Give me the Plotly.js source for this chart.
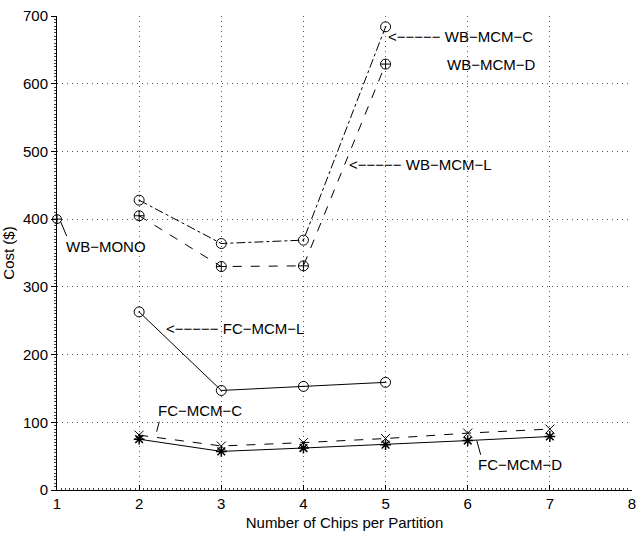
<!DOCTYPE html>
<html><head><meta charset="utf-8">
<script src="https://cdn.plot.ly/plotly-3.0.1.min.js"></script>
<style>body{margin:0;background:#fff}#c{width:637px;height:535px}</style>
</head><body><div id="c"></div>
<script>
const monoX = [1];
const monoY = [400];
const mcmX = [2, 3, 4, 5];
const wbMcmC = [428, 364, 369, 684];
const wbMcmD = [405, 330, 331, 629];
const fcMcmL = [263, 147, 153, 159];
const fcX = [2, 3, 4, 5, 6, 7];
const fcMcmC = [81, 65, 70, 76, 84, 90];
const fcMcmD = [75, 57, 62, 67, 73, 79];
const labels = {
  wbc: "<\u2212\u2212\u2212\u2212\u2212 WB\u2212MCM\u2212C",
  wbd: "WB\u2212MCM\u2212D",
  wbl: "<\u2212\u2212\u2212\u2212\u2212 WB\u2212MCM\u2212L",
  mono: "WB\u2212MONO",
  fcl: "<\u2212\u2212\u2212\u2212\u2212 FC\u2212MCM\u2212L",
  fcc: "FC\u2212MCM\u2212C",
  fcd: "FC\u2212MCM\u2212D"
};

const FONT = "Liberation Sans, Arial, sans-serif";
const FS = 15;
const line = (dash) => ({color: "#000", width: 1, dash: dash});
const traces = [
  {x: monoX, y: monoY, mode: "markers", marker: {symbol: "circle-cross-open", size: 9, color: "#000", line: {width: 1}}, cliponaxis: false},
  {x: mcmX, y: wbMcmC, mode: "lines+markers", line: line("dashdot"), marker: {symbol: "circle-open-dot", size: 10, color: "#000", line: {width: 1}}},
  {x: mcmX, y: wbMcmD, mode: "lines+markers", line: line("dash"), marker: {symbol: "circle-cross-open", size: 10, color: "#000", line: {width: 1}}},
  {x: mcmX, y: fcMcmL, mode: "lines+markers", line: line("solid"), marker: {symbol: "circle-open-dot", size: 10, color: "#000", line: {width: 1}}},
  {x: fcX, y: fcMcmC, mode: "lines+markers", line: line("dash"), marker: {symbol: "x-thin-open", size: 9, color: "#000", line: {width: 1}}},
  {x: fcX, y: fcMcmD, mode: "lines+markers", line: line("solid"), marker: {symbol: "asterisk-open", size: 9, color: "#000", line: {width: 1.5}}}
];

const ann = (x, y, text) => ({x: x, y: y, xref: "x", yref: "y", text: text, showarrow: false, xanchor: "left", yanchor: "middle", font: {family: FONT, size: FS, color: "#000"}, borderpad: 0});

const GRID = "#555";
const layout = {
  width: 637, height: 535,
  margin: {l: 57, r: 5, t: 16, b: 45},
  paper_bgcolor: "#fff", plot_bgcolor: "#fff",
  showlegend: false,
  font: {family: FONT, size: FS, color: "#000"},
  xaxis: {
    range: [1, 8], dtick: 1, tick0: 1,
    showline: true, linecolor: "#000", linewidth: 1,
    ticks: "inside", ticklen: 5, tickcolor: "#000",
    showgrid: true, gridcolor: GRID, griddash: "1px,4px", gridwidth: 1,
    zeroline: false,
    minor: {dtick: 0.05, ticks: "inside", ticklen: 2, tickcolor: "#444", showgrid: false},
    title: {text: "Number of Chips per Partition", font: {family: FONT, size: FS}, standoff: 6}
  },
  yaxis: {
    range: [0, 700], dtick: 100,
    showline: true, linecolor: "#000", linewidth: 1,
    ticks: "outside", ticklen: 5, tickcolor: "#000",
    showgrid: true, gridcolor: GRID, griddash: "1px,4px", gridwidth: 1,
    zeroline: false,
    minor: {dtick: 5, ticks: "outside", ticklen: 2, tickcolor: "#444", showgrid: false},
    title: {text: "Cost ($)", font: {family: FONT, size: FS}, standoff: 6}
  },
  annotations: [
    ann(5.017, 669, labels.wbc),
    ann(5.736, 629, labels.wbd),
    ann(4.543, 480, labels.wbl),
    ann(1.097, 359, labels.mono),
    ann(2.315, 239, labels.fcl),
    ann(2.217, 118, labels.fcc),
    ann(6.113, 37, labels.fcd)
  ],
  shapes: [
    {type: "line", xref: "x", yref: "y", x0: 1.045, y0: 396, x1: 1.118, y1: 375, line: {color: "#000", width: 1}},
    {type: "line", xref: "x", yref: "y", x0: 2.245, y0: 101, x1: 2.213, y1: 86, line: {color: "#000", width: 1}},
    {type: "line", xref: "x", yref: "y", x0: 6.11, y0: 73, x1: 6.158, y1: 52, line: {color: "#000", width: 1}}
  ]
};

Plotly.newPlot("c", traces, layout, {displayModeBar: false, staticPlot: true});
</script>
</body></html>
